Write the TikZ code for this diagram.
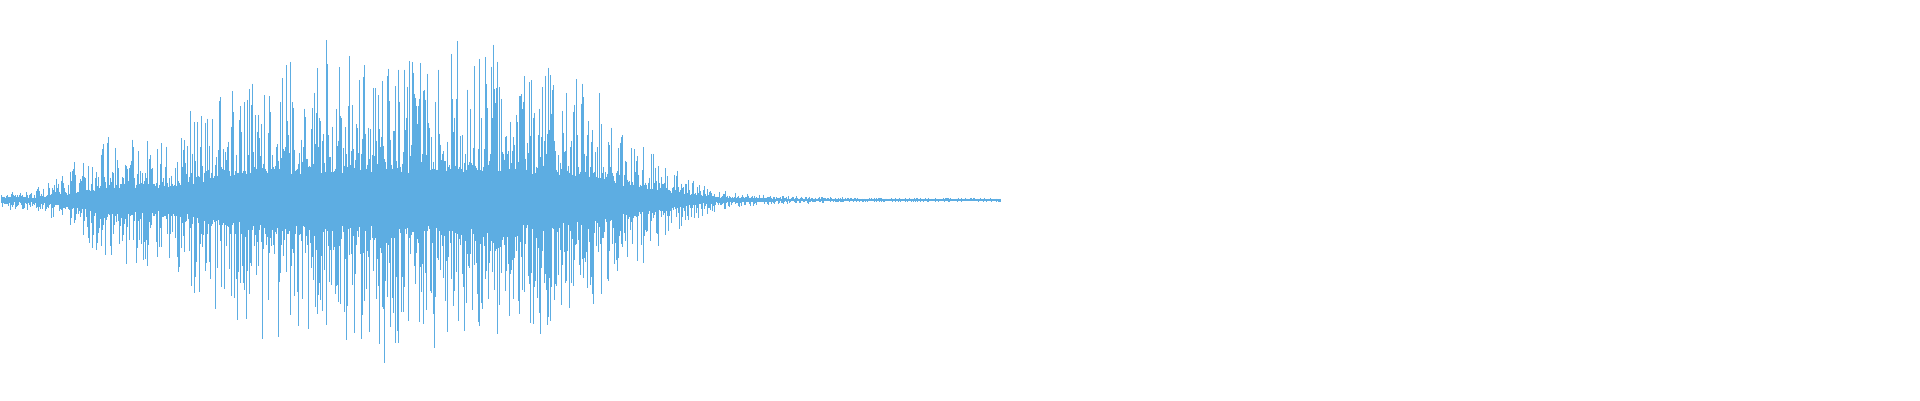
\documentclass[tikz,border=0pt]{standalone}
\definecolor{wavecol}{RGB}{93,173,226}
\begin{document}
\begin{tikzpicture}[x=1pt,y=1pt]
\tikzstyle{sample}=[draw=wavecol,line width=0.7pt]
\useasboundingbox (0,0) rectangle (1920,400);
\pgfmathsetseed{4242}
% one vertical stroke per column
\foreach \i in {1,...,1000}{
  \pgfmathsetmacro{\d}{\i/1.2245}
  \pgfmathsetmacro{\env}{max(max(exp(-((\d-330)/200)^4),0.15*exp(-abs(\d-500)/80)),max(0.45*exp(-((\d-110)/60)^2),0.06*exp(-\d/200)+0.01))*(0.75+0.25*rnd)}
  \pgfmathsetmacro{\up}{168*\env*(0.2+0.8*rnd^2)}
  \pgfmathsetmacro{\dn}{168*\env*(0.2+0.8*rnd^2)}
  \draw[sample] (\i,200+\up+0.5) -- (\i,200-\dn-0.5);
}
\end{tikzpicture}
\end{document}
